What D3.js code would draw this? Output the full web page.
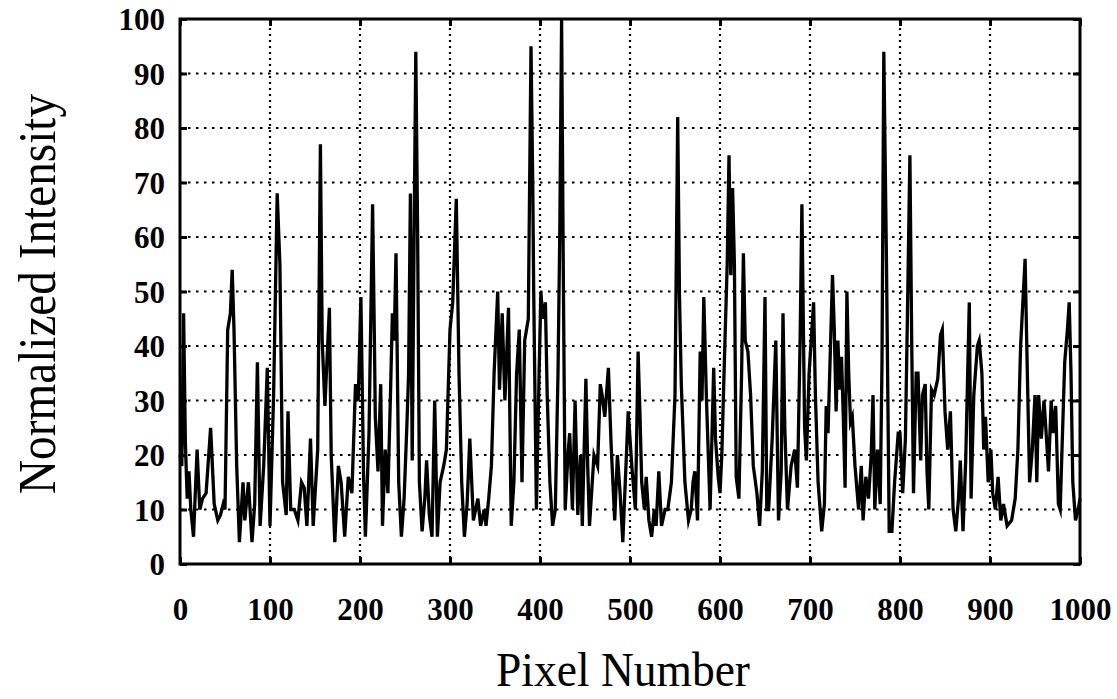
<!DOCTYPE html>
<html>
<head>
<meta charset="utf-8">
<script src="https://cdn.jsdelivr.net/npm/d3@7/dist/d3.min.js"></script>
<style>
  html, body { margin: 0; padding: 0; background: #fff; }
  svg { display: block; }
  text { font-family: "Liberation Serif", "Times New Roman", serif; fill: #000; }
</style>
</head>
<body>
<svg id="chart" width="1117" height="699"></svg>
<script>
// Detector profile: pixel index vs. normalized intensity
const pixel = [
  0,2,4,6,8,10,12,15,19,22,25,29,34,38,42,45,48,50,53,56,58,60,63,66,70,72,76,80,83,86,89,93,97,100,
  104,108,111,114,118,120,123,127,131,135,138,141,145,148,153,156,158,161,166,168,172,176,179,183,187,191,195,198,
  201,204,206,210,214,216,217,220,223,225,228,231,234,236,238,240,243,246,249,252,254,256,258,260,262,264,266,269,
  272,274,277,280,283,286,289,293,296,300,303,307,310,313,316,319,322,326,331,334,338,340,343,346,349,353,355,358,
  361,365,368,371,374,377,380,383,387,390,392,393,396,399,401,403,406,408,411,414,417,420,422,424,426,428,431,433,
  436,439,442,445,447,451,453,455,460,464,467,469,472,476,479,483,486,489,492,495,498,502,506,509,511,513,516,518,
  521,524,527,529,532,535,539,542,546,550,553,555,557,561,565,568,570,572,575,578,580,582,585,589,593,595,598,600,
  602,605,608,610,612,614,616,618,621,624,626,628,631,634,637,641,644,647,650,652,654,658,662,665,668,670,672,675,
  679,683,686,689,691,694,696,699,704,706,709,713,716,718,720,725,727,729,731,733,735,737,739,741,743,745,747,750,
  754,757,759,762,765,768,770,772,775,778,780,782,785,788,791,794,798,800,803,806,808,811,813,815,818,820,823,825,
  828,830,832,835,838,842,845,847,850,853,856,859,862,865,867,870,873,877,879,882,886,888,891,893,895,898,901,903,
  906,909,912,915,919,924,928,931,934,939,941,944,947,950,952,954,957,960,962,965,968,970,973,976,978,980,983,986,
  988,990,992,995,998,1000
];
const intensity = [
  20,18,46,22,12,17,10,5,21,10,12,13,25,11,8,9,11,10,43,46,54,43,18,4,15,8,15,4,11,37,7,18,36,7,
  31,68,55,15,9,28,10,10,8,15,14,7,23,7,21,77,41,29,47,20,4,18,15,5,16,13,33,30,
  49,16,5,24,66,41,27,17,33,7,21,13,32,46,41,57,15,5,12,25,35,68,19,58,94,61,15,6,
  12,19,9,5,30,5,15,18,21,43,48,67,35,15,5,11,23,8,12,7,10,7,12,18,35,50,32,46,
  30,47,7,15,35,43,15,41,45,95,69,50,10,35,50,45,48,31,15,7,10,35,61,100,51,10,20,24,
  10,30,9,20,7,34,18,7,20,18,33,31,27,36,22,8,20,13,4,16,28,18,10,39,28,15,10,16,
  8,5,10,7,17,7,10,10,15,31,82,49,33,15,8,10,15,17,8,39,30,49,30,10,36,23,16,13,
  20,38,55,75,53,69,55,16,12,35,57,41,39,31,18,13,7,17,49,10,10,23,41,8,17,46,25,10,
  18,21,14,41,66,25,19,35,48,31,15,6,11,29,24,53,43,28,41,32,38,27,14,50,35,26,27,18,
  10,18,8,16,12,20,31,10,21,11,37,94,55,6,6,15,24,24,13,23,43,75,41,13,35,35,19,31,
  33,17,10,32,31,34,42,43,28,21,28,10,6,12,19,6,19,48,12,31,40,41,35,21,27,15,21,13,
  10,16,8,11,7,8,12,21,40,56,39,15,21,31,15,31,23,30,25,17,30,24,29,11,10,21,37,43,
  48,35,15,8,10,12
];
const xTicks = [0,100,200,300,400,500,600,700,800,900,1000];
const yTicks = [0,10,20,30,40,50,60,70,80,90,100];

const margin = { left: 180, top: 19, width: 900, height: 545 };
const svg = d3.select("#chart");

const x = d3.scaleLinear().domain([0, 1000]).range([margin.left, margin.left + margin.width]);
const y = d3.scaleLinear().domain([0, 100]).range([margin.top + margin.height, margin.top]);

// dotted grid
const grid = svg.append("g").attr("class", "grid");
grid.selectAll("line.h").data(yTicks.slice(1, -1)).enter().append("line")
  .attr("x1", x(0)).attr("x2", x(1000))
  .attr("y1", d => y(d)).attr("y2", d => y(d))
  .attr("stroke", "#000").attr("stroke-width", 2.2)
  .attr("stroke-dasharray", "2.5,5.5");
grid.selectAll("line.v").data(xTicks.slice(1, -1)).enter().append("line")
  .attr("y1", y(0)).attr("y2", y(100))
  .attr("x1", d => x(d)).attr("x2", d => x(d))
  .attr("stroke", "#000").attr("stroke-width", 2.2)
  .attr("stroke-dasharray", "2,4");

// axes with inward ticks on all four sides
const tickLen = 7;
const fmt = d3.format("d");
const axisLeft = svg.append("g").attr("transform", `translate(${margin.left},0)`)
  .call(d3.axisLeft(y).tickValues(yTicks).tickFormat(fmt).tickSizeInner(-tickLen).tickSizeOuter(0).tickPadding(15));
const axisRight = svg.append("g").attr("transform", `translate(${margin.left + margin.width},0)`)
  .call(d3.axisRight(y).tickValues(yTicks).tickSizeInner(-tickLen).tickSizeOuter(0).tickFormat(""));
const axisBottom = svg.append("g").attr("transform", `translate(0,${margin.top + margin.height})`)
  .call(d3.axisBottom(x).tickValues(xTicks).tickFormat(fmt).tickSizeInner(-tickLen).tickSizeOuter(0).tickPadding(34));
const axisTop = svg.append("g").attr("transform", `translate(0,${margin.top})`)
  .call(d3.axisTop(x).tickValues(xTicks).tickSizeInner(-tickLen).tickSizeOuter(0).tickFormat(""));

[axisLeft, axisRight, axisBottom, axisTop].forEach(g => {
  g.select(".domain").remove();
  g.selectAll(".tick line").attr("stroke", "#000").attr("stroke-width", 3);
  g.selectAll(".tick text")
    .attr("font-family", "'Liberation Serif', 'Times New Roman', serif")
    .attr("font-size", 31).attr("font-weight", "bold").attr("fill", "#000");
});
axisLeft.selectAll(".tick text").attr("dy", "0.34em");
axisBottom.selectAll(".tick text").attr("dy", "0.72em");

// intensity trace
const line = d3.line().x((d, i) => x(pixel[i])).y(d => y(d)).curve(d3.curveLinear);
svg.append("path")
  .datum(intensity)
  .attr("d", line)
  .attr("fill", "none")
  .attr("stroke", "#000")
  .attr("stroke-width", 3.3)
  .attr("stroke-linejoin", "miter")
  .attr("stroke-miterlimit", 6);

// frame
svg.append("rect")
  .attr("x", margin.left).attr("y", margin.top)
  .attr("width", margin.width).attr("height", margin.height)
  .attr("fill", "none").attr("stroke", "#000").attr("stroke-width", 3);

// axis titles
svg.append("text")
  .attr("x", 623).attr("y", 686)
  .attr("text-anchor", "middle")
  .attr("font-size", 48)
  .attr("textLength", 254).attr("lengthAdjust", "spacingAndGlyphs")
  .text("Pixel Number");

svg.append("text")
  .attr("transform", "translate(55,294) rotate(-90)")
  .attr("text-anchor", "middle")
  .attr("font-size", 52)
  .attr("textLength", 400).attr("lengthAdjust", "spacingAndGlyphs")
  .text("Normalized Intensity");
</script>
</body>
</html>
